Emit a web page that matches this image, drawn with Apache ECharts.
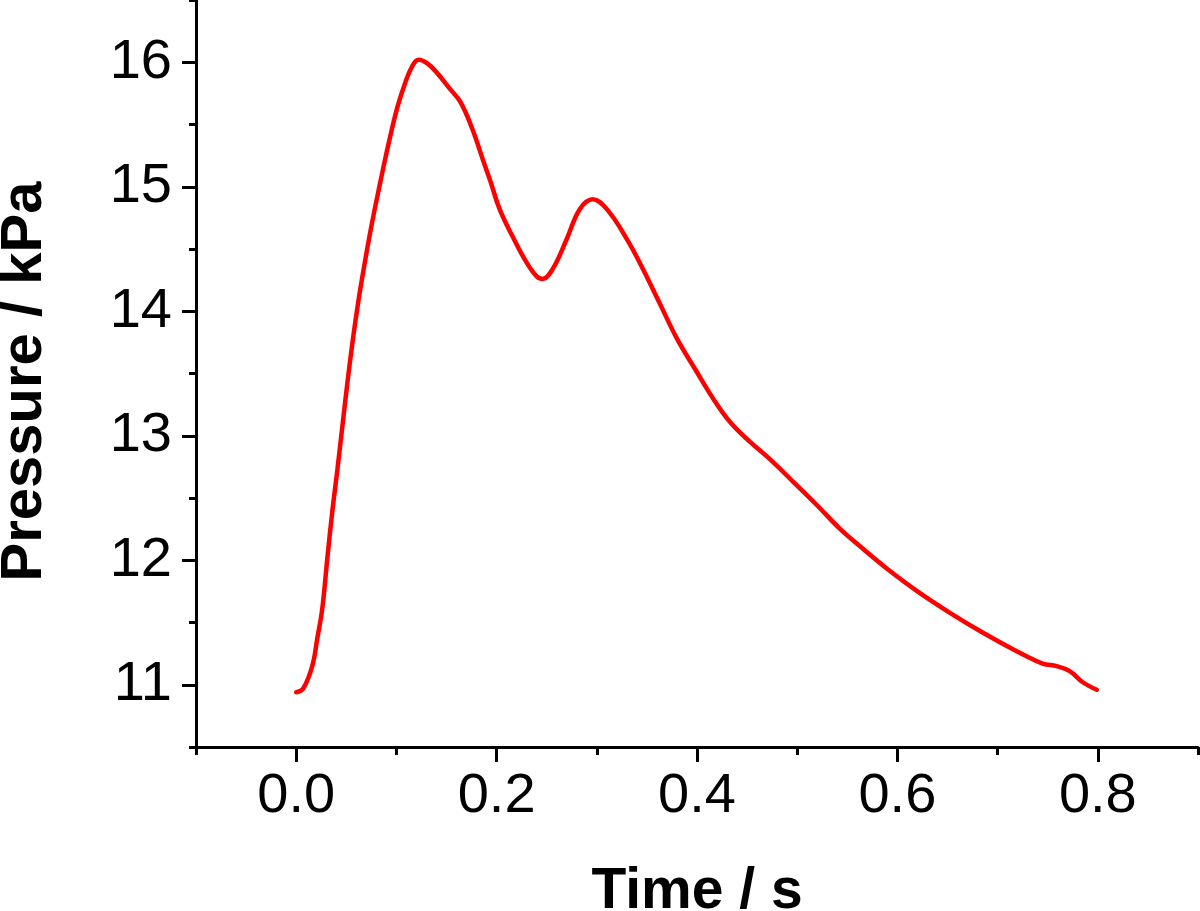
<!DOCTYPE html>
<html>
<head>
<meta charset="utf-8">
<script src="https://cdn.jsdelivr.net/npm/echarts@6/dist/echarts.min.js"></script>
<style>
  html, body { margin: 0; padding: 0; background: #fff; }
  #chart { width: 1200px; height: 911px; }
</style>
</head>
<body>
<div id="chart"></div>
<script>
// time (s) and pressure (kPa)
var times = [0.000, 0.007, 0.016, 0.021, 0.026, 0.031, 0.036, 0.041, 0.046, 0.051,
  0.056, 0.060, 0.064, 0.074, 0.084, 0.092, 0.101, 0.109, 0.116, 0.122,
  0.134, 0.154, 0.164, 0.176, 0.187, 0.194, 0.203, 0.216, 0.230, 0.240,
  0.246, 0.256, 0.270, 0.283, 0.296, 0.310, 0.330, 0.346, 0.363, 0.380,
  0.400, 0.416, 0.433, 0.453, 0.473, 0.496, 0.520, 0.543, 0.563, 0.590,
  0.620, 0.652, 0.685, 0.719, 0.745, 0.759, 0.772, 0.785, 0.799];
var pressures = [10.94, 10.97, 11.15, 11.37, 11.61, 12.01, 12.39, 12.72, 13.07, 13.42,
  13.74, 13.97, 14.18, 14.64, 15.04, 15.34, 15.64, 15.84, 15.97, 16.02,
  15.97, 15.78, 15.68, 15.46, 15.20, 15.04, 14.82, 14.60, 14.39, 14.28,
  14.26, 14.34, 14.58, 14.82, 14.90, 14.82, 14.58, 14.34, 14.06, 13.78,
  13.51, 13.30, 13.11, 12.95, 12.81, 12.63, 12.44, 12.25, 12.11, 11.93,
  11.75, 11.58, 11.42, 11.27, 11.17, 11.15, 11.11, 11.02, 10.96];

var xMajor = [0, 0.2, 0.4, 0.6, 0.8];
var xMinor = [-0.1, 0.1, 0.3, 0.5, 0.7, 0.9];
var yMajor = [11, 12, 13, 14, 15, 16];
var yMinor = [10.5, 11.5, 12.5, 13.5, 14.5, 15.5, 16.5];

var chart = echarts.init(document.getElementById('chart'));

var font = 'Liberation Sans, Arial, sans-serif';
var axisCol = '#000';

var option = {
  animation: false,
  backgroundColor: '#fff',
  grid: { left: 196, right: 2, top: 0, bottom: 164, containLabel: false, outerBoundsMode: 'none' },
  xAxis: [{
    type: 'value', min: -0.1, max: 0.9,
    splitLine: { show: false },
    axisLine: { onZero: false, lineStyle: { color: axisCol, width: 3 } },
    axisTick: { customValues: xMajor, length: 15, lineStyle: { color: axisCol, width: 3 } },
    axisLabel: {
      customValues: xMajor, margin: 22, color: '#000', fontFamily: font, fontSize: 56,
      formatter: function (v) { return v.toFixed(1); }
    },
    name: 'Time / s', nameLocation: 'middle', nameGap: 117,
    nameTextStyle: { color: '#000', fontFamily: font, fontSize: 57, fontWeight: 'bold' }
  }, {
    type: 'value', min: -0.1, max: 0.9, position: 'bottom',
    splitLine: { show: false },
    axisLine: { show: false, onZero: false },
    axisTick: { customValues: xMinor, length: 8, lineStyle: { color: axisCol, width: 3 } },
    axisLabel: { show: false }
  }],
  yAxis: [{
    type: 'value', min: 10.5, max: 16.5,
    splitLine: { show: false },
    axisLine: { onZero: false, lineStyle: { color: axisCol, width: 3 } },
    axisTick: { customValues: yMajor, length: 14, lineStyle: { color: axisCol, width: 3 } },
    axisLabel: {
      customValues: yMajor, margin: 24, color: '#000', fontFamily: font, fontSize: 56
    },
    name: 'Pressure / kPa', nameLocation: 'middle', nameGap: 142,
    nameTextStyle: {
      color: '#000', fontFamily: font, fontSize: 58, fontWeight: 'bold',
      padding: [0, 16, 0, 0]
    }
  }, {
    type: 'value', min: 10.5, max: 16.5, position: 'left',
    splitLine: { show: false },
    axisLine: { show: false, onZero: false },
    axisTick: { customValues: yMinor, length: 7, lineStyle: { color: axisCol, width: 3 } },
    axisLabel: { show: false }
  }],
  series: [{
    type: 'line',
    xAxisIndex: 0, yAxisIndex: 0,
    data: times.map(function (t, i) { return [t, pressures[i]]; }),
    showSymbol: false,
    smooth: 0.4,
    lineStyle: { color: '#ff0000', width: 4.5, cap: 'round', join: 'round' }
  }]
};

chart.setOption(option);
</script>
</body>
</html>
